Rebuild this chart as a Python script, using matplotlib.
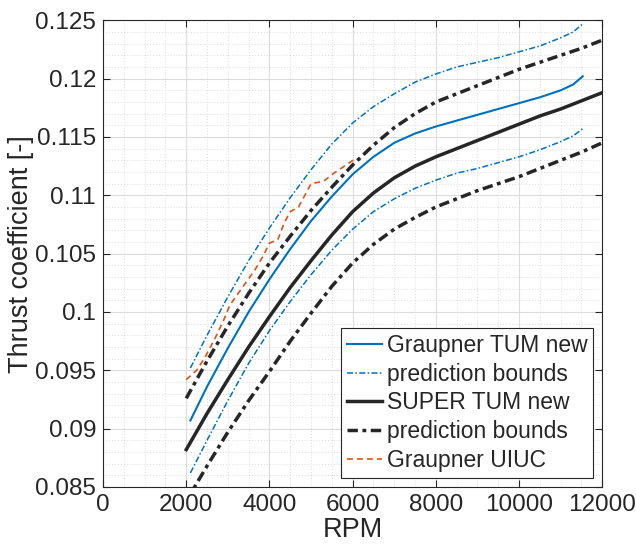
import numpy as np
import matplotlib
matplotlib.use('Agg')
import matplotlib.pyplot as plt
from matplotlib.ticker import MultipleLocator

# ====================== DATA ======================
# Graupner TUM new (fit + prediction bounds)
rpm_graupner = [2100, 2500, 3000, 3500, 4000, 4500, 5000, 5500, 6000, 6500,
                7000, 7500, 8000, 8500, 9000, 9500, 10000, 10500, 11000, 11300, 11530]
ct_graupner = [0.0907, 0.0936, 0.0969, 0.1000, 0.1028, 0.1054, 0.1078, 0.1099, 0.1118, 0.1133,
               0.1145, 0.1153, 0.1159, 0.1164, 0.1169, 0.1174, 0.1179, 0.1184, 0.1190, 0.1195, 0.1202]
ct_graupner_hi = [0.0952, 0.0980, 0.1013, 0.1044, 0.1072, 0.1098, 0.1122, 0.1144, 0.1162, 0.1176,
                  0.1187, 0.1197, 0.1204, 0.1210, 0.1214, 0.1218, 0.1223, 0.1228, 0.1235, 0.1240, 0.1247]
ct_graupner_lo = [0.0862, 0.0890, 0.0924, 0.0956, 0.0984, 0.1009, 0.1032, 0.1053, 0.1071, 0.1086,
                  0.1097, 0.1106, 0.1113, 0.1119, 0.1123, 0.1128, 0.1133, 0.1139, 0.1146, 0.1151, 0.1157]

# SUPER TUM new (fit + prediction bounds)
rpm_super = [2000, 2500, 3000, 3500, 4000, 4500, 5000, 5500, 6000, 6500, 7000,
             7500, 8000, 8500, 9000, 9500, 10000, 10500, 11000, 11500, 12000]
ct_super = [0.0882, 0.0913, 0.0942, 0.0970, 0.0996, 0.1021, 0.1044, 0.1066, 0.1086, 0.1102, 0.1115,
            0.1125, 0.1133, 0.1140, 0.1147, 0.1154, 0.1161, 0.1168, 0.1174, 0.1181, 0.1188]
ct_super_hi = [0.0926, 0.0958, 0.0988, 0.1016, 0.1042, 0.1065, 0.1087, 0.1107, 0.1126, 0.1143, 0.1158,
               0.1170, 0.1180, 0.1187, 0.1194, 0.1201, 0.1208, 0.1214, 0.1220, 0.1226, 0.1233]
ct_super_lo = [0.0838, 0.0868, 0.0897, 0.0924, 0.0949, 0.0975, 0.0999, 0.1022, 0.1042, 0.1058, 0.1071,
               0.1081, 0.1090, 0.1097, 0.1104, 0.1110, 0.1116, 0.1123, 0.1130, 0.1137, 0.1145]

# Graupner UIUC measurements
rpm_uiuc = [2000, 2250, 2450, 2700, 2900, 3050, 3250, 3450, 3650, 3850, 4000,
            4200, 4350, 4500, 4700, 4850, 5000, 5300, 5550, 5800, 6050]
ct_uiuc = [0.0942, 0.0950, 0.0961, 0.0978, 0.0993, 0.1006, 0.1016, 0.1026, 0.1036, 0.1048, 0.1059,
           0.1062, 0.1076, 0.1086, 0.1090, 0.1100, 0.1110, 0.1112, 0.1119, 0.1125, 0.1131]

# ====================== PLOT ======================
plt.rcParams['font.family'] = ['Liberation Sans', 'DejaVu Sans']
BLUE = '#0072BD'
ORANGE = '#D95319'
TXT = '#262626'
BOUND_BLACK = (0, (3, 1.3, 1.1, 1.3))
BOUND_BLUE = (0, (4, 1.5, 1, 1.5))

fig = plt.figure(figsize=(6.36, 5.49), dpi=100)
ax = fig.add_axes([0.162, 0.113, 0.785, 0.850])

ax.plot(rpm_graupner, ct_graupner, color=BLUE, lw=1.5, label='Graupner TUM new')
ax.plot(rpm_graupner, ct_graupner_hi, color=BLUE, lw=1.1, ls=BOUND_BLUE, label='prediction bounds')
ax.plot(rpm_super, ct_super, color=TXT, lw=2.5, label='SUPER TUM new')
ax.plot(rpm_super, ct_super_hi, color=TXT, lw=2.5, ls=BOUND_BLACK, label='prediction bounds')
ax.plot(rpm_uiuc, ct_uiuc, color=ORANGE, lw=1.2, ls=(0, (3.5, 2.5)), label='Graupner UIUC')
ax.plot(rpm_graupner, ct_graupner_lo, color=BLUE, lw=1.1, ls=BOUND_BLUE)
ax.plot(rpm_super, ct_super_lo, color=TXT, lw=2.5, ls=BOUND_BLACK)

ax.set_xlim(0, 12000)
ax.set_ylim(0.085, 0.125)
ax.set_xticks(range(0, 12001, 2000))
yt = [0.085, 0.09, 0.095, 0.1, 0.105, 0.11, 0.115, 0.12, 0.125]
ax.set_yticks(yt)
ax.set_yticklabels([f'{v:g}' for v in yt])
ax.xaxis.set_minor_locator(MultipleLocator(500))
ax.yaxis.set_minor_locator(MultipleLocator(0.001))

ax.grid(True, which='major', color='#dcdcdc', lw=0.8)
ax.grid(True, which='minor', color='#d0d0d0', lw=0.6, ls=(0, (1, 2.5)))
ax.set_axisbelow(True)

ax.tick_params(which='both', direction='in', top=True, right=True, colors=TXT,
               labelsize=17.5, labelcolor=TXT, pad=5)
ax.tick_params(which='major', length=5, width=0.8)
ax.tick_params(which='minor', length=0)
for s in ax.spines.values():
    s.set_color(TXT)
    s.set_linewidth(0.8)

ax.set_xlabel('RPM', fontsize=19.5, color=TXT, labelpad=1)
ax.set_ylabel('Thrust coefficient [-]', fontsize=19.5, color=TXT, labelpad=1)

leg = ax.legend(loc='lower right', bbox_to_anchor=(0.982, 0.02), fontsize=16.5,
                frameon=True, fancybox=False, framealpha=1, edgecolor=TXT,
                handlelength=1.55, handletextpad=0.2, borderpad=0.25,
                labelspacing=0.25, borderaxespad=0)
leg.get_frame().set_linewidth(0.8)
for t in leg.get_texts():
    t.set_color(TXT)

plt.savefig('out.png', dpi=100)
plt.close()
